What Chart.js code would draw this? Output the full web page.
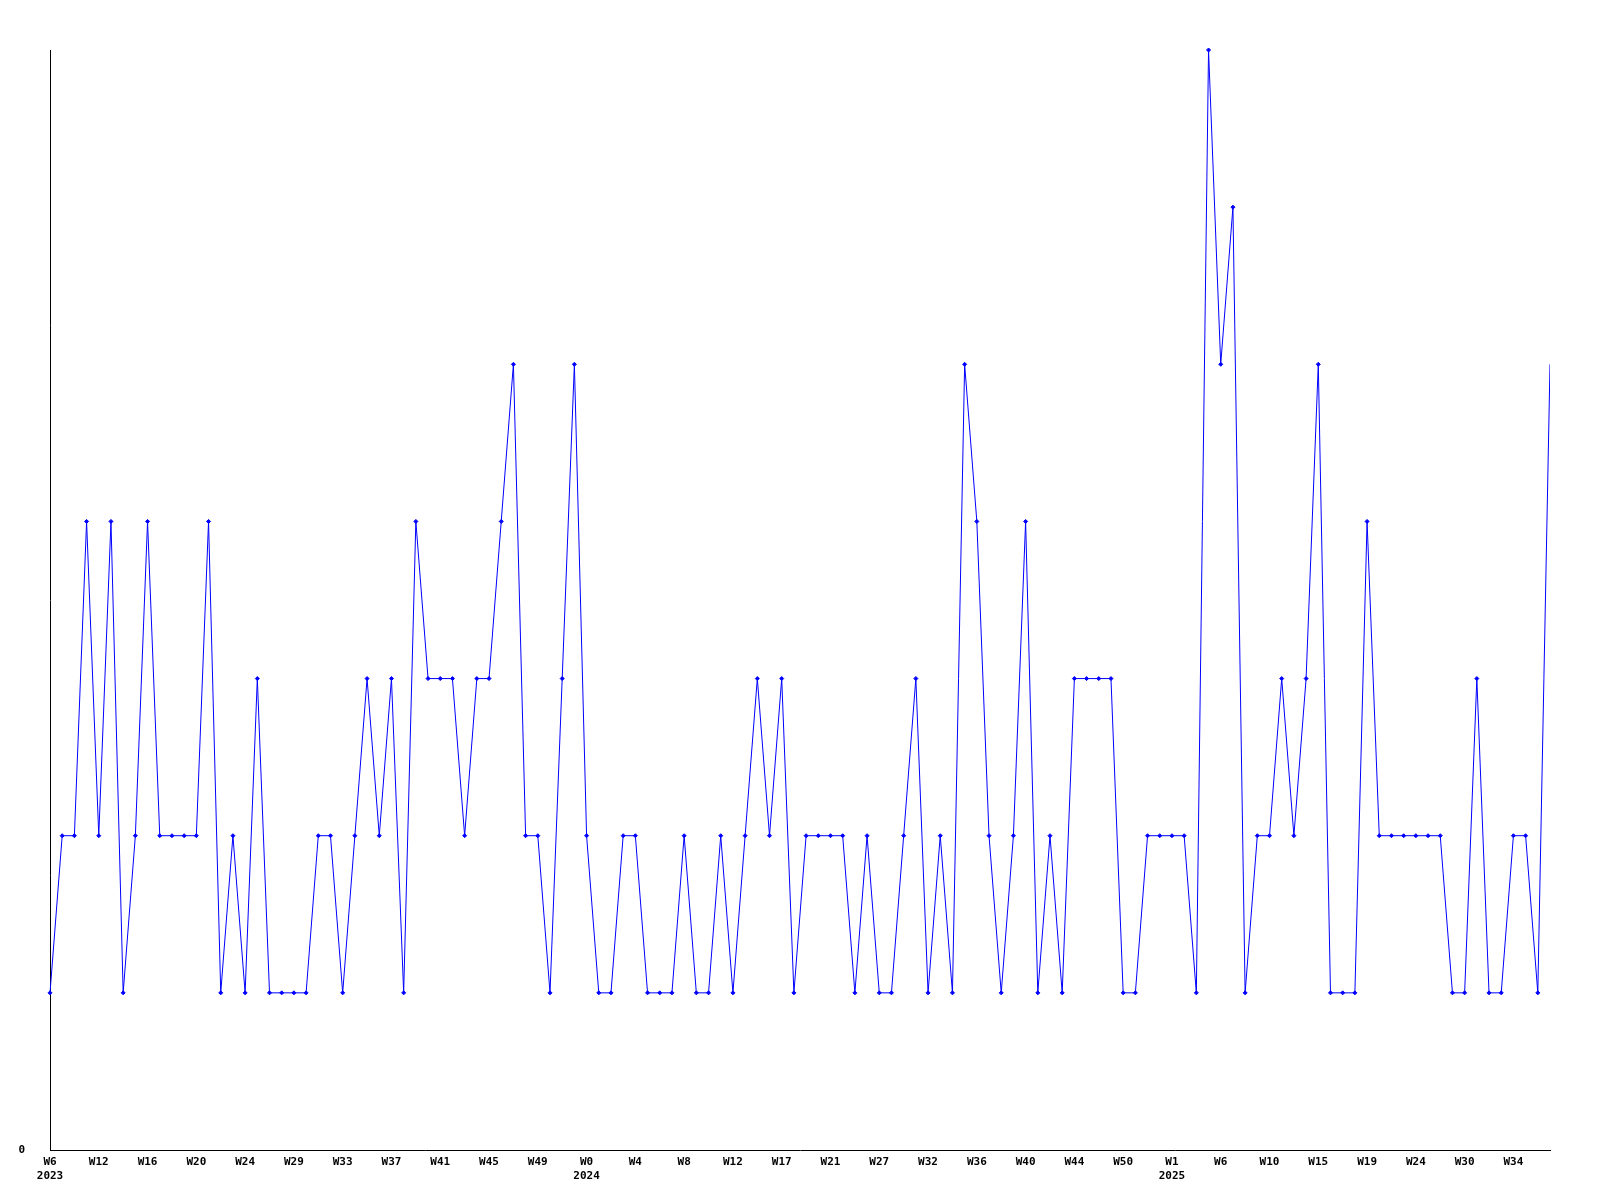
<!DOCTYPE html>
<html>
<head>
<meta charset="utf-8">
<script src="https://cdn.jsdelivr.net/npm/chart.js@4/dist/chart.umd.min.js"></script>
<style>
  body { margin: 0; background: #fff; }
</style>
</head>
<body>
<canvas id="chartWeeks" width="1600" height="1200"></canvas>
<script>
// weekly counts, one per point
const counts = [
  1, 2, 2, 4, 2, 4, 1, 2, 4, 2, 2, 2, 2, 4, 1, 2, 1, 3, 1, 1, 1, 1, 2, 2, 1, 2, 3, 2, 3, 1, 4, 3,
  3, 3, 2, 3, 3, 4, 5, 2, 2, 1, 3, 5, 2, 1, 1, 2, 2, 1, 1, 1, 2, 1, 1, 2, 1, 2, 3, 2, 3, 1,
  2, 2, 2, 2, 1, 2, 1, 1, 2, 3, 1, 2, 1, 5, 4, 2, 1, 2, 4, 1, 2, 1, 3, 3, 3, 3, 1, 1, 2, 2, 2, 2,
  1, 7, 5, 6, 1, 2, 2, 3, 2, 3, 5, 1, 1, 1, 4, 2, 2, 2, 2, 2, 2, 1, 1, 3, 1, 1, 2, 2, 1, 5
];

// x tick labels, one every 4 points
const weekLabels = [
  'W6', 'W12', 'W16', 'W20', 'W24', 'W29', 'W33', 'W37', 'W41', 'W45', 'W49',
  'W0', 'W4', 'W8', 'W12', 'W17', 'W21', 'W27', 'W32', 'W36', 'W40', 'W44', 'W50',
  'W1', 'W6', 'W10', 'W15', 'W19', 'W24', 'W30', 'W34'
];
const yearLabels = [
  '2023', '', '', '', '', '', '', '', '', '', '',
  '2024', '', '', '', '', '', '', '', '', '', '', '',
  '2025', '', '', '', '', '', '', ''
];
const tickEvery = 4;
const yTicks = [0];

const font = { family: '"DejaVu Sans Mono", monospace', size: 11, weight: 'bold', lineHeight: '14px' };

const ctx = document.getElementById('chartWeeks');
new Chart(ctx, {
  type: 'line',
  data: {
    datasets: [{
      data: counts.map((v, i) => ({ x: i, y: v })),
      borderColor: '#0000ff',
      backgroundColor: '#0000ff',
      borderWidth: 1,
      pointStyle: 'rectRot',
      // last point sits on the right edge, its marker is cut off there
      pointRadius: (c) => c.dataIndex === counts.length - 1 ? 0 : 2,
      pointBorderWidth: 1,
      tension: 0,
      clip: { left: 6, top: 6, bottom: 6, right: 0 }
    }]
  },
  options: {
    responsive: false,
    animation: false,
    devicePixelRatio: 1,
    layout: { padding: { top: 50, right: 50, left: 0, bottom: 0 } },
    plugins: {
      legend: { display: false },
      tooltip: { enabled: false }
    },
    scales: {
      x: {
        type: 'linear',
        min: 0,
        max: counts.length - 1,
        grid: { display: false, drawTicks: false },
        border: { display: true, color: '#000', width: 1 },
        afterBuildTicks: (scale) => {
          scale.ticks = weekLabels.map((w, k) => ({ value: k * tickEvery }));
        },
        afterFit: (scale) => { scale.height = 50; },
        ticks: {
          autoSkip: false,
          maxRotation: 0,
          minRotation: 0,
          padding: 5,
          color: '#000',
          font: font,
          callback: (value) => {
            const k = Math.round(value / tickEvery);
            return yearLabels[k] ? [weekLabels[k], yearLabels[k]] : weekLabels[k];
          }
        }
      },
      y: {
        min: 0,
        max: 7,
        grid: { display: false, drawTicks: false },
        border: { display: true, color: '#000', width: 1 },
        afterBuildTicks: (scale) => {
          scale.ticks = yTicks.map(v => ({ value: v }));
        },
        afterFit: (scale) => { scale.width = 50; },
        ticks: {
          padding: 25,
          color: '#000',
          font: font
        }
      }
    }
  }
});
</script>
</body>
</html>
